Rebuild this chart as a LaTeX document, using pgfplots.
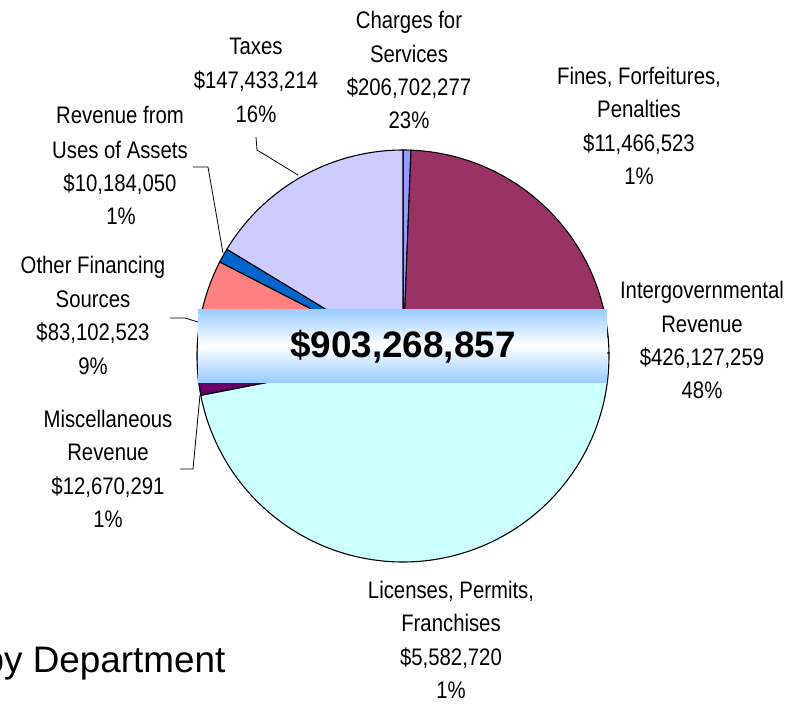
\documentclass[border=0pt]{standalone}
\usepackage{fontspec}
\setmainfont{Liberation Sans}
\newfontfamily\narrow{Liberation Sans}[FakeStretch=0.85]
\usepackage{pgfplots}
\usepackage{pgfplotstable}
\pgfplotsset{compat=1.18}

\definecolor{cPeri}{HTML}{9999FF}
\definecolor{cPlum}{HTML}{993366}
\definecolor{cIvory}{HTML}{FFFFCC}
\definecolor{cTurq}{HTML}{CCFFFF}
\definecolor{cPurple}{HTML}{660066}
\definecolor{cCoral}{HTML}{FF8080}
\definecolor{cOcean}{HTML}{0066CC}
\definecolor{cIce}{HTML}{CCCCFF}
\definecolor{banner}{HTML}{99CCFF}

% revenue in millions of dollars, clockwise from 12 o'clock
\pgfplotstableread{
source      value       color
Licenses    5.582720    cPeri
Charges     206.702277  cPlum
Fines       11.466523   cIvory
Intergov    426.127259  cTurq
Misc        12.670291   cPurple
Other       83.102523   cCoral
Uses        10.184050   cOcean
Taxes       147.433214  cIce
}\pietable
\def\pietotal{903.268857}

\tikzset{lbl/.style={anchor=base, inner sep=0pt, font=\narrow\fontsize{24}{24}\selectfont}}

\begin{document}
\begin{tikzpicture}
\begin{axis}[
  x=1bp, y=1bp,
  xmin=0, xmax=808, ymin=0, ymax=704,
  y dir=reverse,
  hide axis, clip=false,
  anchor=south west, at={(0,0)},
]
\gdef\astart{90}
\pgfplotsforeachungrouped \i in {0,...,7}{%
  \pgfplotstablegetelem{\i}{value}\of\pietable
  \let\val\pgfplotsretval
  \pgfplotstablegetelem{\i}{color}\of\pietable
  \let\col\pgfplotsretval
  \pgfmathsetmacro\sweep{\val/\pietotal*360}%
  \pgfmathsetmacro\aend{\astart-\sweep}%
  \edef\temp{\noexpand\addplot[fill=\col, draw=black, line width=1.1bp,
      domain=\aend:\astart, samples=120]
      ({403+206*cos(x)},{356-206*sin(x)}) -- (403,356) -- cycle;}%
  \temp
  \global\let\astart\aend
}

% leader lines
\draw[black, line width=0.8bp] (axis cs:256,137) -- (axis cs:257,150) -- (axis cs:298,175);
\draw[black, line width=0.8bp] (axis cs:193,167) -- (axis cs:208,167) -- (axis cs:223,253);
\draw[black, line width=0.8bp] (axis cs:170,318) -- (axis cs:185,318) -- (axis cs:198,322);
\draw[black, line width=0.8bp] (axis cs:180,469) -- (axis cs:193,469) -- (axis cs:200,395);

% total banner
\shade[top color=banner, bottom color=banner, middle color=white]
  (axis cs:198,309) rectangle (axis cs:607,382);
\node[anchor=base, inner sep=0pt, font=\bfseries\fontsize{37}{37}\selectfont]
  at (axis cs:403,357) {\$903,268,857};

% labels
\node[lbl] at (axis cs:256,54) {Taxes};
\node[lbl] at (axis cs:256,88) {\$147,433,214};
\node[lbl] at (axis cs:256,122) {16\%};

\node[lbl] at (axis cs:409,28) {Charges for};
\node[lbl] at (axis cs:409,62) {Services};
\node[lbl] at (axis cs:409,95) {\$206,702,277};
\node[lbl] at (axis cs:409,128) {23\%};

\node[lbl] at (axis cs:639,84) {Fines, Forfeitures,};
\node[lbl] at (axis cs:639,117) {Penalties};
\node[lbl] at (axis cs:639,151) {\$11,466,523};
\node[lbl] at (axis cs:639,184) {1\%};

\node[lbl] at (axis cs:702,298) {Intergovernmental};
\node[lbl] at (axis cs:702,332) {Revenue};
\node[lbl] at (axis cs:702,365) {\$426,127,259};
\node[lbl] at (axis cs:702,398) {48\%};

\node[lbl] at (axis cs:451,598) {Licenses, Permits,};
\node[lbl] at (axis cs:451,631) {Franchises};
\node[lbl] at (axis cs:451,665) {\$5,582,720};
\node[lbl] at (axis cs:451,698) {1\%};

\node[lbl] at (axis cs:108,427) {Miscellaneous};
\node[lbl] at (axis cs:108,460) {Revenue};
\node[lbl] at (axis cs:108,494) {\$12,670,291};
\node[lbl] at (axis cs:108,527) {1\%};

\node[lbl] at (axis cs:93,273) {Other Financing};
\node[lbl] at (axis cs:93,307) {Sources};
\node[lbl] at (axis cs:93,340) {\$83,102,523};
\node[lbl] at (axis cs:93,374) {9\%};

\node[lbl] at (axis cs:120,123) {Revenue from};
\node[lbl] at (axis cs:120,158) {Uses of Assets};
\node[lbl] at (axis cs:120,191) {\$10,184,050};
\node[lbl] at (axis cs:121,224) {1\%};

\node[anchor=base west, inner sep=0pt, font=\fontsize{37}{37}\selectfont]
  at (axis cs:-16.5,672) {by Department};
\end{axis}
\pgfresetboundingbox
\useasboundingbox (0,0) rectangle (808bp,704bp);
\end{tikzpicture}
\end{document}
